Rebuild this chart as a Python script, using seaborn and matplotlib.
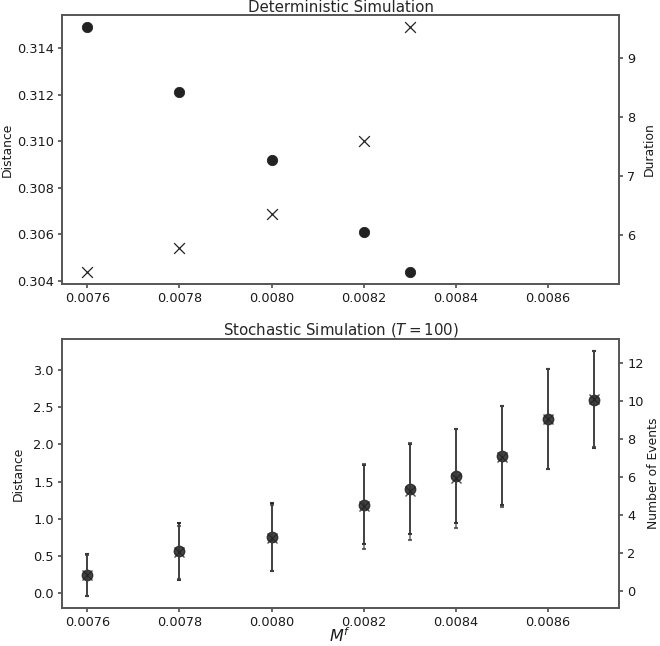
import matplotlib
matplotlib.use("Agg")
import numpy as np
import pandas as pd
import matplotlib.pyplot as plt
import seaborn as sns

# deterministic run
det_mf = [0.0076, 0.0078, 0.0080, 0.0082, 0.0083]
det_distance = [0.3149, 0.3121, 0.3092, 0.3061, 0.3044]
det_duration = [5.39, 5.78, 6.37, 7.59, 9.52]

# stochastic run (mean +- sd)
sto_mf = [0.0076, 0.0078, 0.0080, 0.0082, 0.0083, 0.0084, 0.0085, 0.0086, 0.0087]
sto_distance = [0.25, 0.565, 0.757, 1.19, 1.40, 1.575, 1.846, 2.345, 2.60]
sto_distance_sd = [0.28, 0.385, 0.45, 0.53, 0.60, 0.63, 0.665, 0.67, 0.65]
sto_events = [0.82, 2.04, 2.80, 4.46, 5.24, 5.92, 7.07, 9.05, 10.09]
sto_events_sd = [1.06, 1.40, 1.75, 2.24, 2.54, 2.60, 2.65, 2.64, 2.52]

sns.set_theme(style="white")
plt.rcParams.update({
    "axes.edgecolor": "#555555",
    "axes.linewidth": 1.2,
    "xtick.bottom": True,
    "ytick.left": True,
    "xtick.major.size": 3,
    "ytick.major.size": 3,
    "xtick.major.pad": 3,
    "ytick.major.pad": 3,
    "xtick.color": "#555555",
    "ytick.color": "#555555",
    "xtick.labelcolor": "#1a1a1a",
    "ytick.labelcolor": "#1a1a1a",
    "xtick.labelsize": 9.3,
    "ytick.labelsize": 9.3,
    "axes.labelsize": 8.9,
    "axes.labelcolor": "#1a1a1a",
    "axes.titlesize": 10.8,
    "mathtext.fontset": "dejavusans",
})
plt.rcParams["font.family"] = ["DejaVu Sans"]

mark = "#222222"

fig, (ax1, ax3) = plt.subplots(2, 1, figsize=(6.6, 6.46), sharex=True)
fig.subplots_adjust(left=0.094, right=0.938, top=0.977, bottom=0.059, hspace=0.205)

det = pd.DataFrame({"mf": det_mf, "distance": det_distance, "duration": det_duration})
sns.scatterplot(data=det, x="mf", y="distance", marker="o", s=55, color=mark,
                edgecolor=mark, ax=ax1)
ax2 = ax1.twinx()
sns.scatterplot(data=det, x="mf", y="duration", marker="x", s=60, color=mark,
                linewidth=0.9, ax=ax2)
ax1.set_title("Deterministic Simulation", pad=2)
ax1.set_ylabel("Distance", labelpad=2)
ax2.set_ylabel("Duration", labelpad=5)
ax1.set_xlabel("")
ax1.tick_params(axis="x", labelbottom=True)
ax1.set_yticks([0.304, 0.306, 0.308, 0.310, 0.312, 0.314])
ax2.set_yticks([6, 7, 8, 9])

ax3.errorbar(sto_mf, sto_distance, yerr=sto_distance_sd, fmt="o", ms=7.5,
             color=mark, ecolor="#111111", elinewidth=1.3, capsize=1.5,
             capthick=1.5, alpha=0.85)
ax4 = ax3.twinx()
ax4.errorbar(sto_mf, sto_events, yerr=sto_events_sd, fmt="x", ms=7,
             color=mark, ecolor="#444444", elinewidth=1.1, capsize=1.5,
             capthick=1.5, alpha=0.8)
ax3.set_title("Stochastic Simulation ($T = 100$)", pad=3)
ax3.set_ylabel("Distance", labelpad=6)
ax4.set_ylabel("Number of Events", labelpad=2)
ax3.set_xlabel("$M^f$", fontsize=11.5, labelpad=-2)
ax3.set_xticks([0.0076, 0.0078, 0.0080, 0.0082, 0.0084, 0.0086])
ax3.set_xticklabels(["0.0076", "0.0078", "0.0080", "0.0082", "0.0084", "0.0086"])
ax4.set_yticks([0, 2, 4, 6, 8, 10, 12])

for a in (ax1, ax2, ax3, ax4):
    for s in a.spines.values():
        s.set_color("#555555")

fig.savefig("out.png", dpi=100)
